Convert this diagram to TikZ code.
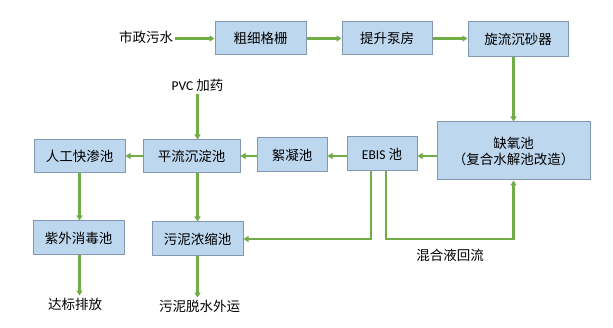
\documentclass[tikz,border=0pt]{standalone}
\usepackage{fontspec}
\setmainfont{Carlito}
\newfontfamily\cjk{Noto Sans CJK SC}
\usetikzlibrary{arrows.meta}
\definecolor{boxfill}{HTML}{BDD7EE}
\definecolor{boxline}{HTML}{8497B0}
\definecolor{flowgreen}{HTML}{70AD47}
\begin{document}
\begin{tikzpicture}[x=1pt,y=-1pt,
  every node/.style={font=\fontsize{13.5}{16}\selectfont\cjk},
  procbox/.style={draw=boxline,fill=boxfill,line width=1pt,inner sep=0pt,align=center},
  lbl/.style={inner sep=2pt},
  flow/.style={draw=flowgreen,line width=2.3pt,-{Triangle[length=5pt,width=6pt]}}]
\useasboundingbox (0,0) rectangle (613,328);
% boxes
\node[procbox,minimum width=91pt,minimum height=33pt] (a) at (260.5,38.5) {粗细格栅};
\node[procbox,minimum width=90pt,minimum height=33pt] (b) at (387,38.5) {提升泵房};
\node[procbox,minimum width=100pt,minimum height=35pt] (c) at (518,39.5) {旋流沉砂器};
\node[procbox,minimum width=153pt,minimum height=58pt] (d) at (513.5,151) {缺氧池\\（复合水解池改造）};
\node[procbox,minimum width=70pt,minimum height=34pt] (e) at (382,154) {{\setmainfont{Carlito}\rmfamily EBIS} 池};
\node[procbox,minimum width=70pt,minimum height=34pt] (f) at (292,155) {絮凝池};
\node[procbox,minimum width=97pt,minimum height=33pt] (g) at (191.5,156.5) {平流沉淀池};
\node[procbox,minimum width=91pt,minimum height=33pt] (h) at (79.5,156.5) {人工快渗池};
\node[procbox,minimum width=91pt,minimum height=34pt] (i) at (78.5,238) {紫外消毒池};
\node[procbox,minimum width=91pt,minimum height=34pt] (j) at (197.5,239) {污泥浓缩池};
% labels
\node[lbl] (src) at (146,37) {市政污水};
\node[lbl] (pvc) at (197.5,85.5) {{\setmainfont{Carlito}\rmfamily PVC} 加药};
\node[lbl] (out1) at (75,304) {达标排放};
\node[lbl] (out2) at (199.5,306) {污泥脱水外运};
\node[lbl] (mix) at (450,255) {混合液回流};
% connectors
\draw[flow] (src.east |- a.west) -- (a.west);
\draw[flow] (a.east) -- (b.west);
\draw[flow] (b.east) -- (c.west |- b.east);
\draw[flow] (d.north |- c.south) -- (d.north);
\draw[flow] (d.west |- 0,156) -- (e.east |- 0,156);
\draw[flow] (e.west |- 0,156) -- (f.east |- 0,156);
\draw[flow] (f.west |- 0,156) -- (g.east |- 0,156);
\draw[flow] (g.west |- 0,156) -- (h.east |- 0,156);
\draw[flow] (j.north |- pvc.south) -- (j.north |- g.north);
\draw[flow] (j.north |- g.south) -- (j.north);
\draw[flow] (h.south) -- (h.south |- i.north);
\draw[flow] (h.south |- i.south) -- (h.south |- out1.north);
\draw[flow] (j.south) -- (j.south |- out2.north);
\draw[flow] ([xshift=-11pt]e.south) |- (j.east);
\draw[flow] ([xshift=4pt]e.south) |- (j.east -| d.south) -- (d.south);
\end{tikzpicture}
\end{document}
